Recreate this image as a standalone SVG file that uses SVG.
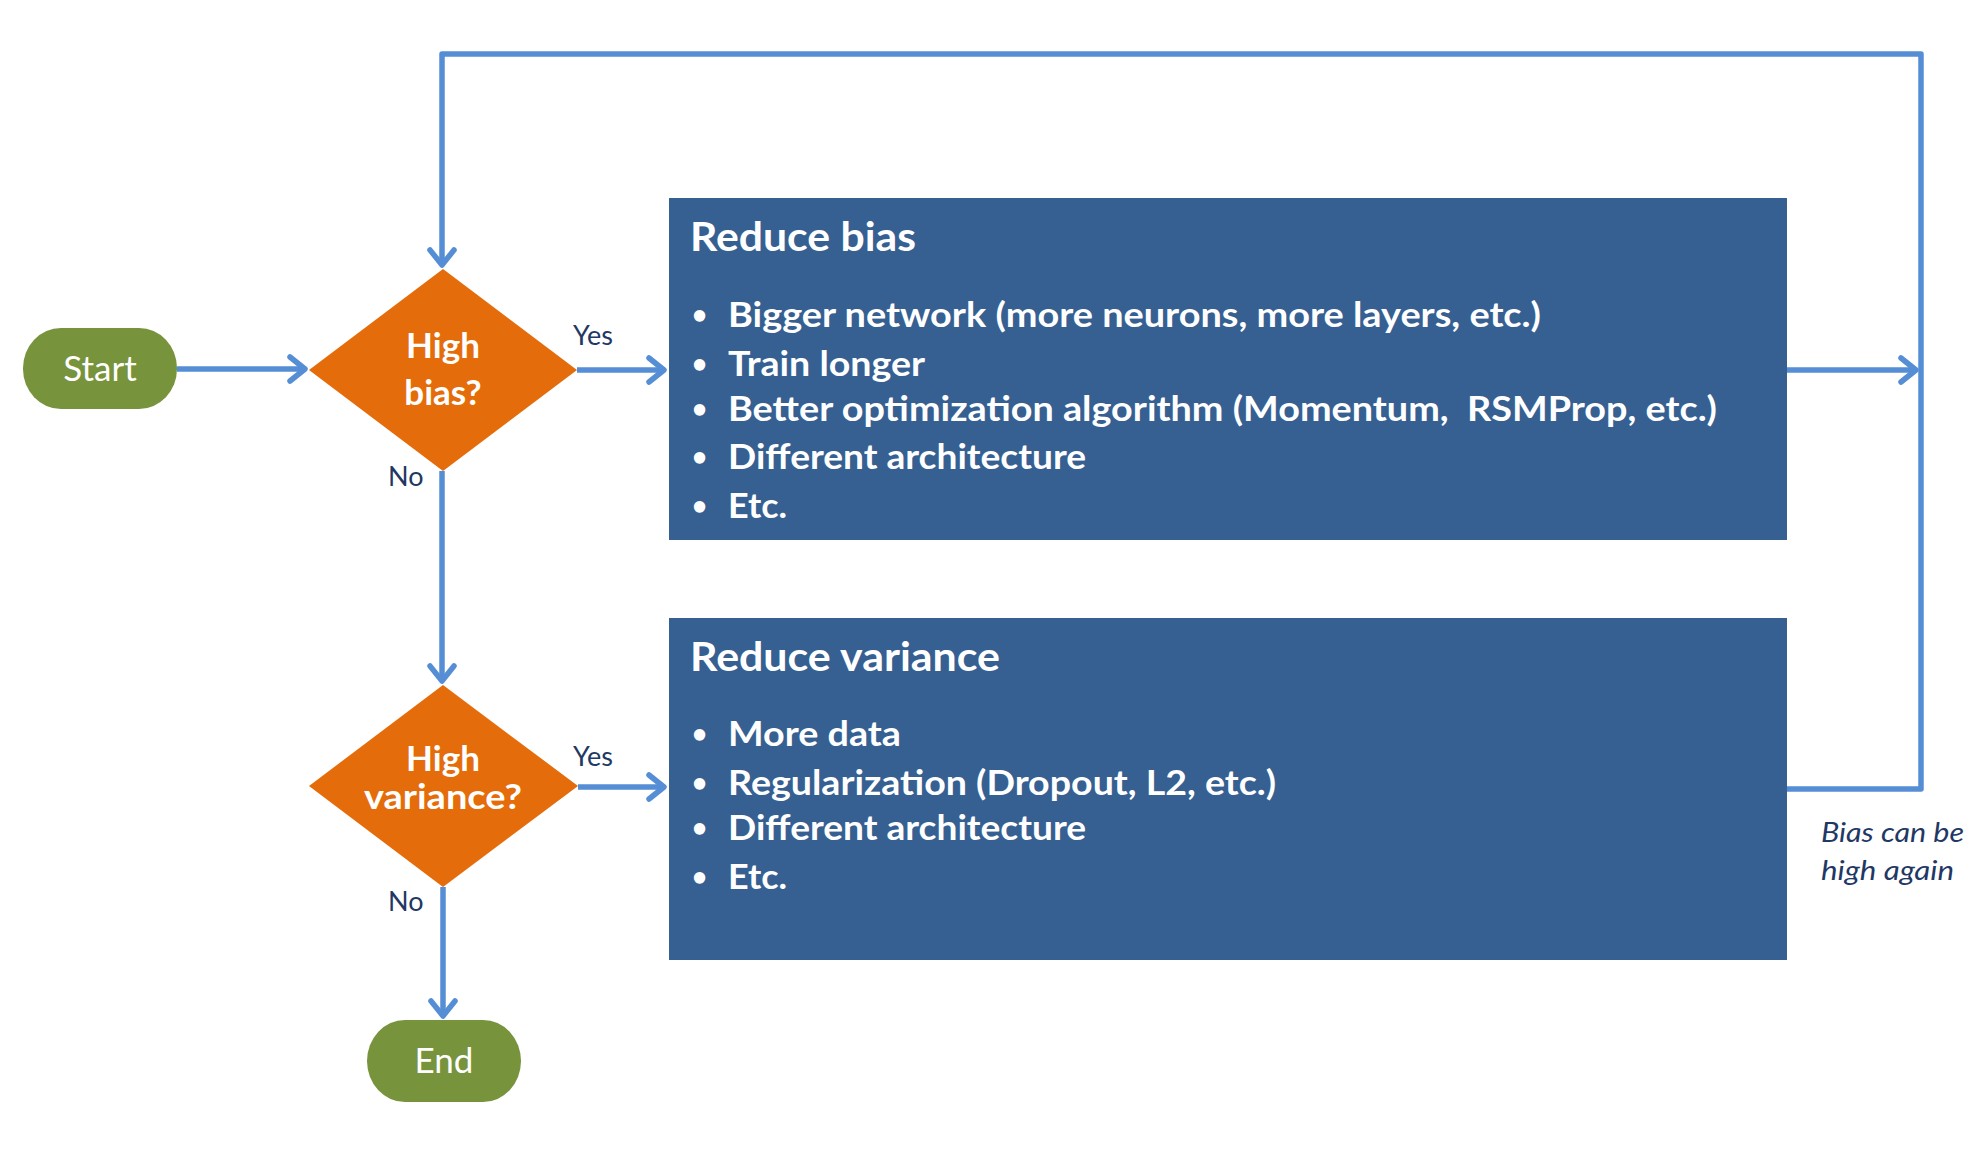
<svg xmlns="http://www.w3.org/2000/svg" width="1979" height="1165" viewBox="0 0 1979 1165">
<style>
.conn{fill:none;stroke:#558ED5;stroke-width:5.5;stroke-linejoin:round;marker-end:url(#arr)}
.term{fill:#77933C}
.dia{fill:#E46C0A}
.box{fill:#366092}
.tw{fill:#FFFFFF;font-family:Lato,"Open Sans",sans-serif}
.b{font-weight:bold}
.title{font-size:41px}
.item{font-size:35px}
.bul{font-size:26px}
.lbl{fill:#1F3864;font-family:Lato,"Open Sans",sans-serif;font-size:27px}
.note{fill:#1F3864;font-family:Lato,"Open Sans",sans-serif;font-size:27px;font-style:italic}
</style>
<defs>
<marker id="arr" markerUnits="userSpaceOnUse" viewBox="-22 -16 26 32" markerWidth="26" markerHeight="32" refX="0" refY="0" orient="auto">
<path d="M-15,-12 L0,0 L-15,12" fill="none" stroke="#558ED5" stroke-width="5.5" stroke-linecap="round" stroke-linejoin="round"/>
</marker>
</defs>
<rect width="1979" height="1165" fill="#FFFFFF"/>
<g id="connectors">
<path class="conn" d="M177,369 L305,369"/>
<path class="conn" d="M577,370 L664,370"/>
<path class="conn" d="M442,471 L442,681"/>
<path class="conn" d="M578,787 L664,787"/>
<path class="conn" d="M443,887 L443,1016"/>
<path class="conn" d="M1787,370 L1916,370"/>
<path class="conn" d="M1787,789 L1921,789 L1921,54 L442,54 L442,265"/>
</g>
<g id="labels">
<text class="lbl" x="573" y="345">Yes</text>
<text class="lbl" x="388" y="486">No</text>
<text class="lbl" x="573" y="766">Yes</text>
<text class="lbl" x="388" y="911">No</text>
<text class="note" x="1821" y="842" textLength="143" lengthAdjust="spacingAndGlyphs">Bias can be</text>
<text class="note" x="1821" y="880" textLength="133" lengthAdjust="spacingAndGlyphs">high again</text>
</g>
<g id="start">
<rect class="term" x="23" y="328" width="154" height="81" rx="38" ry="40"/>
<text class="tw" x="100" y="381" font-size="35" text-anchor="middle">Start</text>
</g>
<g id="high-bias">
<polygon class="dia" points="443,269 577,370 443,471 309,370"/>
<text class="tw b" x="443" y="358" font-size="35" text-anchor="middle">High</text>
<text class="tw b" x="443" y="405" font-size="35" text-anchor="middle">bias?</text>
</g>
<g id="high-variance">
<polygon class="dia" points="443,685 578,786 443,887 309,786"/>
<text class="tw b" x="443" y="771" font-size="35" text-anchor="middle">High</text>
<text class="tw b" x="443" y="809" font-size="35" text-anchor="middle" textLength="158" lengthAdjust="spacingAndGlyphs">variance?</text>
</g>
<g id="end">
<rect class="term" x="367" y="1020" width="154" height="82" rx="38" ry="41"/>
<text class="tw" x="444" y="1073" font-size="35" text-anchor="middle">End</text>
</g>
<g id="reduce-bias">
<rect class="box" x="669" y="198" width="1118" height="342"/>
<text class="tw b title" x="690" y="251" textLength="226" lengthAdjust="spacingAndGlyphs">Reduce bias</text>
<g class="tw b item">
<text class="bul" x="692" y="324">•</text>
<text x="728" y="327" textLength="813" lengthAdjust="spacingAndGlyphs">Bigger network (more neurons, more layers, etc.)</text>
<text class="bul" x="692" y="373">•</text>
<text x="728" y="376" textLength="197" lengthAdjust="spacingAndGlyphs">Train longer</text>
<text class="bul" x="692" y="418">•</text>
<text x="728" y="421" textLength="989" lengthAdjust="spacingAndGlyphs" xml:space="preserve">Better optimization algorithm (Momentum,  RSMProp, etc.)</text>
<text class="bul" x="692" y="466">•</text>
<text x="728" y="469" textLength="358" lengthAdjust="spacingAndGlyphs">Different architecture</text>
<text class="bul" x="692" y="515">•</text>
<text x="728" y="518" textLength="59" lengthAdjust="spacingAndGlyphs">Etc.</text>
</g>
</g>
<g id="reduce-variance">
<rect class="box" x="669" y="618" width="1118" height="342"/>
<text class="tw b title" x="690" y="671" textLength="310" lengthAdjust="spacingAndGlyphs">Reduce variance</text>
<g class="tw b item">
<text class="bul" x="692" y="743">•</text>
<text x="728" y="746" textLength="173" lengthAdjust="spacingAndGlyphs">More data</text>
<text class="bul" x="692" y="792">•</text>
<text x="728" y="795" textLength="548" lengthAdjust="spacingAndGlyphs">Regularization (Dropout, L2, etc.)</text>
<text class="bul" x="692" y="837">•</text>
<text x="728" y="840" textLength="358" lengthAdjust="spacingAndGlyphs">Different architecture</text>
<text class="bul" x="692" y="886">•</text>
<text x="728" y="889" textLength="59" lengthAdjust="spacingAndGlyphs">Etc.</text>
</g>
</g>
</svg>
